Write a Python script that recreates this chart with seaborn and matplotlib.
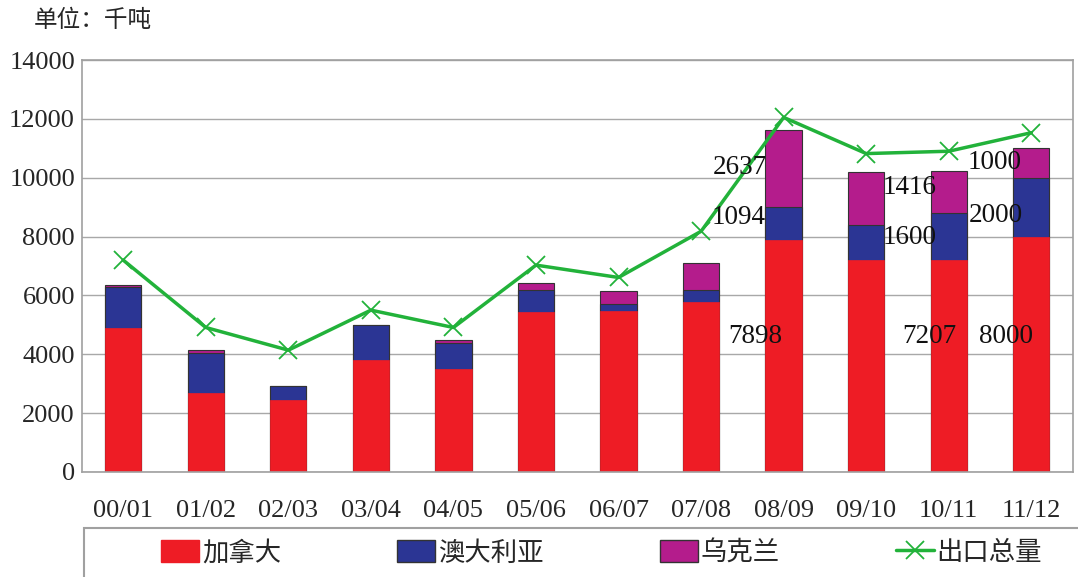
import numpy as np
import pandas as pd
import matplotlib
matplotlib.use('Agg')
import matplotlib.pyplot as plt
from matplotlib.lines import Line2D
from matplotlib.patches import Patch, Rectangle
import seaborn as sns

# 数据 (千吨)
years = ['00/01', '01/02', '02/03', '03/04', '04/05', '05/06',
         '06/07', '07/08', '08/09', '09/10', '10/11', '11/12']
canada = [4900, 2700, 2450, 3800, 3490, 5440, 5470, 5780, 7898, 7200, 7207, 8000]
australia = [1380, 1330, 480, 1180, 900, 760, 230, 420, 1094, 1180, 1600, 2000]
ukraine = [80, 110, 0, 0, 80, 210, 450, 910, 2637, 1820, 1416, 1000]
total_exports = [7200, 4910, 4140, 5500, 4910, 7030, 6610, 8180, 12050, 10820, 10900, 11530]

# 数值标签: (文字, x, y)
labels = [
    ('2637', 7.47, 10360), ('1094', 7.45, 8660), ('7898', 7.65, 4600),
    ('1416', 9.52, 9680), ('1600', 9.52, 7980), ('7207', 9.76, 4600),
    ('1000', 10.55, 10530), ('2000', 10.57, 8730), ('8000', 10.69, 4600),
]

c_red = '#ee1c25'
c_blue = '#2b3594'
c_purple = '#b41c8c'
c_green = '#22b23a'

df = pd.DataFrame({'year': years, 'canada': canada, 'australia': australia,
                   'ukraine': ukraine})
df['ca_au'] = df['canada'] + df['australia']
df['all3'] = df['ca_au'] + df['ukraine']

sns.set_theme(style='white')
plt.rcParams['font.family'] = ['Liberation Serif', 'Noto Sans CJK SC']

fig = plt.figure(figsize=(10.78, 5.77), dpi=100)
ax = fig.add_axes([0.076, 0.182, 0.919, 0.714])

ax.set_axisbelow(True)
ax.yaxis.grid(True, color='#a8a8a8', linewidth=1.0)

# 叠加柱 (从总高度往下画)
sns.barplot(data=df, x='year', y='all3', color=c_purple, width=0.44,
            edgecolor='#333333', linewidth=0.8, saturation=1, ax=ax)
sns.barplot(data=df, x='year', y='ca_au', color=c_blue, width=0.44,
            edgecolor='#333333', linewidth=0.8, saturation=1, ax=ax)
sns.barplot(data=df, x='year', y='canada', color=c_red, width=0.44,
            edgecolor=c_red, linewidth=0.5, saturation=1, ax=ax)

sns.lineplot(x=np.arange(len(years)), y=total_exports, color=c_green,
             linewidth=2.5, marker='x', markersize=13, markeredgewidth=1.3,
             markeredgecolor=c_green, ax=ax)

for txt, x, y in labels:
    ax.text(x, y, txt, ha='center', va='center', fontsize=19.5,
            family='Liberation Serif', color='#111111')

ax.set_ylim(0, 14000)
ax.set_xlim(-0.5, len(years) - 0.5)
ax.set_yticks(range(0, 14001, 2000))
ax.set_xlabel('')
ax.set_ylabel('')
ax.tick_params(axis='y', length=0, pad=5, labelsize=19)
ax.tick_params(axis='x', length=0, pad=20, labelsize=19)
ax.set_xticks(np.arange(len(years)) + 0.5, minor=True)
ax.tick_params(axis='x', which='minor', direction='in', length=5, color='#999999')
for s in ax.spines.values():
    s.set_color('#a0a0a0')
    s.set_linewidth(1.2)

fig.text(0.031, 0.964, '单位：千吨', fontsize=17, family='Noto Sans CJK SC',
         ha='left', va='center')

# 图例外框
fig.patches.append(Rectangle((84 / 1078, -0.02), 1.0, 1 - 528 / 577 + 0.02,
                             transform=fig.transFigure, facecolor='white',
                             edgecolor='#a0a0a0', linewidth=1.5))

handles = [Patch(facecolor=c_red, edgecolor=c_red),
           Patch(facecolor=c_blue, edgecolor='#333333'),
           Patch(facecolor=c_purple, edgecolor='#333333'),
           Line2D([], [], color=c_green, marker='x', linewidth=2.5,
                  markersize=13, markeredgewidth=1.3)]
leg = fig.legend(handles, ['加拿大', '澳大利亚', '乌克兰', '出口总量'],
                 loc='center left', bbox_to_anchor=(161 / 1078, 1 - 553 / 577),
                 ncol=4, frameon=False,
                 prop={'family': 'Noto Sans CJK SC', 'size': 19},
                 handlelength=1.45, handleheight=0.9, handletextpad=0.1,
                 columnspacing=4.4, borderpad=0, borderaxespad=0)

fig.savefig('out.png', dpi=100)
